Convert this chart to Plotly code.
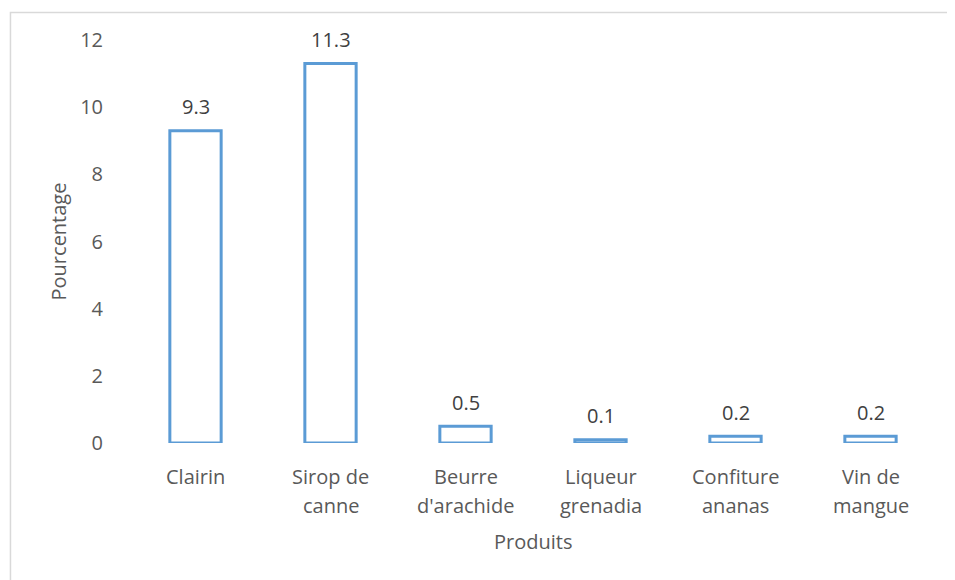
import plotly.graph_objects as go

categories = ["Clairin", "Sirop de<br>canne", "Beurre<br>d'arachide", "Liqueur<br>grenadia", "Confiture<br>ananas", "Vin de<br>mangue"]
values = [9.3, 11.3, 0.5, 0.1, 0.2, 0.2]
value_labels = ["9.3", "11.3", "0.5", "0.1", "0.2", "0.2"]
y_ticks = [0, 2, 4, 6, 8, 10, 12]

FONT = "Open Sans"
TICK_COLOR = "#595959"
LABEL_COLOR = "#404040"
BAR_COLOR = "#5B9BD5"
FS = 20

fig = go.Figure()
fig.add_trace(go.Bar(
    x=categories, y=values, width=0.38,
    marker=dict(color="rgba(255,255,255,0)", line=dict(color=BAR_COLOR, width=3)),
    hoverinfo="x+y",
))

annotations = []
for cat, v, lab in zip(categories, values, value_labels):
    annotations.append(dict(x=cat, y=v, xref="x", yref="y", text=lab, showarrow=False,
                            yanchor="middle", yshift=24,
                            font=dict(family=FONT, size=FS, color=LABEL_COLOR)))
    for i, line in enumerate(cat.split("<br>")):
        annotations.append(dict(x=cat, y=0, xref="x", yref="y", text=line, showarrow=False,
                                yanchor="middle", yshift=-33 - 29 * i,
                                font=dict(family=FONT, size=FS, color=TICK_COLOR)))
annotations.append(dict(x=0.5, y=0, xref="paper", yref="y", text="Produits", showarrow=False,
                        yanchor="middle", yshift=-98,
                        font=dict(family=FONT, size=FS, color=TICK_COLOR)))

fig.update_layout(
    width=947, height=572,
    margin=dict(l=120, r=17, t=32, b=137),
    paper_bgcolor="white", plot_bgcolor="white",
    showlegend=False,
    annotations=annotations,
    shapes=[dict(type="rect", xref="paper", yref="paper",
                 x0=-0.1451, x1=1.2, y0=-0.6, y1=1.0682,
                 line=dict(color="#D9D9D9", width=1.5))],
    xaxis=dict(showticklabels=False, showgrid=False, zeroline=False, showline=False, ticks=""),
    yaxis=dict(range=[0, 12], tickvals=y_ticks, showgrid=False, zeroline=False, showline=False,
               ticks="", ticklabelstandoff=24,
               tickfont=dict(family=FONT, size=FS, color=TICK_COLOR),
               title=dict(text="Pourcentage", standoff=8,
                          font=dict(family=FONT, size=FS, color=TICK_COLOR))),
)

fig.write_html("out.html")
